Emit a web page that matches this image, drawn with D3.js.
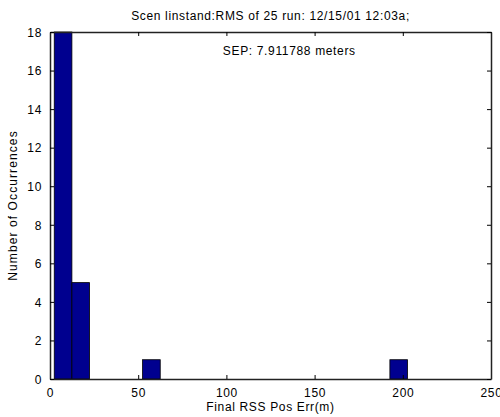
<!DOCTYPE html>
<html>
<head>
<meta charset="utf-8">
<script src="https://cdn.jsdelivr.net/npm/d3@7"></script>
<style>
  body { margin: 0; background: #fff; }
  text { font-family: "Liberation Sans", Arial, sans-serif; font-size: 12px; fill: #000; letter-spacing: 0.65px; }
</style>
</head>
<body>
<div class="viz"></div>
<script>
// histogram bins (20 bins, centers) and counts
var binCenters = [7.41, 17.42, 27.44, 37.45, 47.47, 57.48, 67.50, 77.51, 87.53, 97.54,
                  107.56, 117.57, 127.59, 137.60, 147.62, 157.63, 167.65, 177.66, 187.68, 197.69];
var counts = [18, 5, 0, 0, 0, 1, 0, 0, 0, 0,
              0, 0, 0, 0, 0, 0, 0, 0, 0, 1];
var binWidth = 10.015;
var xTicks = [0, 50, 100, 150, 200, 250];
var yTicks = [0, 2, 4, 6, 8, 10, 12, 14, 16, 18];
var titleText = "Scen linstand:RMS of 25 run: 12/15/01 12:03a;";
var sepText = "SEP: 7.911788 meters";

var width = 500, height = 417;
var margin = { top: 32, right: 9, bottom: 38, left: 50 };

var svg = d3.select('.viz').append('svg')
    .attr('width', width)
    .attr('height', height);

var x = d3.scaleLinear().domain([0, 250]).range([margin.left, width - margin.right]);
var y = d3.scaleLinear().domain([0, 18]).range([height - margin.bottom, margin.top]);

// bars
svg.append('g')
    .selectAll('rect')
    .data(binCenters.map(function(c, i) { return { c: c, n: counts[i] }; }).filter(function(d) { return d.n > 0; }))
    .enter().append('rect')
    .attr('x', function(d) { return x(d.c - binWidth / 2); })
    .attr('y', function(d) { return y(d.n); })
    .attr('width', function(d) { return x(d.c + binWidth / 2) - x(d.c - binWidth / 2); })
    .attr('height', function(d) { return y(0) - y(d.n); })
    .attr('fill', '#00008f')
    .attr('stroke', '#000')
    .attr('stroke-width', 0.8);

var tk = 4;
// axes, inward ticks on all four sides
var axBottom = svg.append('g').attr('transform', 'translate(0,' + y(0) + ')')
    .call(d3.axisBottom(x).tickValues(xTicks).tickSizeInner(-tk).tickSizeOuter(0).tickPadding(9));
var axTop = svg.append('g').attr('transform', 'translate(0,' + y(18) + ')')
    .call(d3.axisTop(x).tickValues(xTicks).tickSizeInner(-tk).tickSizeOuter(0).tickFormat(''));
var axLeft = svg.append('g').attr('transform', 'translate(' + x(0) + ',0)')
    .call(d3.axisLeft(y).tickValues(yTicks).tickSizeInner(-tk).tickSizeOuter(0).tickPadding(8));
var axRight = svg.append('g').attr('transform', 'translate(' + x(250) + ',0)')
    .call(d3.axisRight(y).tickValues(yTicks).tickSizeInner(-tk).tickSizeOuter(0).tickFormat(''));

[axBottom, axTop, axLeft, axRight].forEach(function(a) {
    a.select('.domain').attr('stroke', '#222').attr('stroke-width', 1.5);
    a.selectAll('.tick line').attr('stroke', '#000');
});
axBottom.selectAll('.tick text').attr('dy', '0.75em');
axLeft.selectAll('.tick text').attr('dy', '0.36em');

// title and labels
svg.append('text')
    .attr('x', (x(0) + x(250)) / 2)
    .attr('y', 20)
    .attr('text-anchor', 'middle')
    .text(titleText);

svg.append('text')
    .attr('x', (x(0) + x(250)) / 2)
    .attr('y', 411)
    .attr('text-anchor', 'middle')
    .text('Final RSS Pos Err(m)');

svg.append('text')
    .attr('transform', 'translate(17,' + (y(0) + y(18)) / 2 + ')rotate(-90)')
    .attr('text-anchor', 'middle')
    .style('letter-spacing', '1.1px')
    .text('Number of Occurrences');

svg.append('text')
    .attr('x', x(98))
    .attr('y', y(17) + 4)
    .text(sepText);
</script>
</body>
</html>
